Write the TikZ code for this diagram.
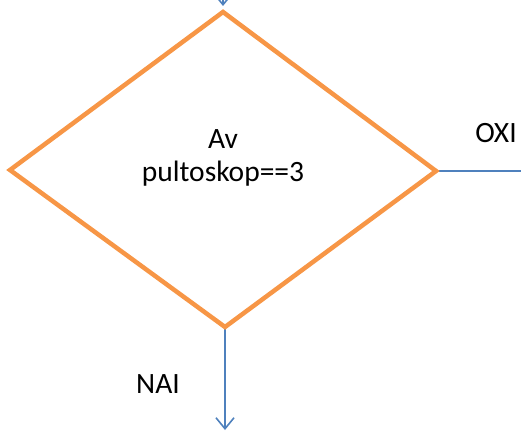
\documentclass[tikz,border=0pt]{standalone}
\usepackage{fontspec}
\setmainfont{Carlito}
\usetikzlibrary{arrows.meta}
\definecolor{orng}{HTML}{F79646}
\definecolor{blu}{HTML}{4F81BD}
\begin{document}
\begin{tikzpicture}[x=1pt,y=1pt,
  flow/.style={draw=blu,line width=1.6pt},
  arr/.style={flow,-{Straight Barb[length=11pt,width=18pt,line width=1.6pt]}},
  lbl/.style={font=\fontsize{29.5}{35}\selectfont,text=black,inner sep=0pt}]
\useasboundingbox (0,0) rectangle (521,432);
\begin{scope}
\clip (0,0) rectangle (521,432);
\coordinate (T) at (223,420);
\coordinate (L) at (10,262);
\coordinate (R) at (436,261);
\coordinate (B) at (225,105);
\coordinate (above) at (223,460);
\coordinate (endR) at (521,261);
\coordinate (endB) at (225,2);
\draw[arr] (above) -- ([yshift=6pt]T);
\draw[flow] (R) -- (endR);
\draw[arr] (B) -- (endB);
\draw[orng,line width=4.5pt,line join=miter] (T) -- (R) -- (B) -- (L) -- cycle;
\node[lbl] (av) at (223,293) {Av};
\node[lbl] (cond) at (223,258) {pultoskop==3};
\node[lbl] (oxi) at (496,299) {OXI};
\node[lbl] (nai) at (158,48) {NAI};
\end{scope}
\end{tikzpicture}
\end{document}
